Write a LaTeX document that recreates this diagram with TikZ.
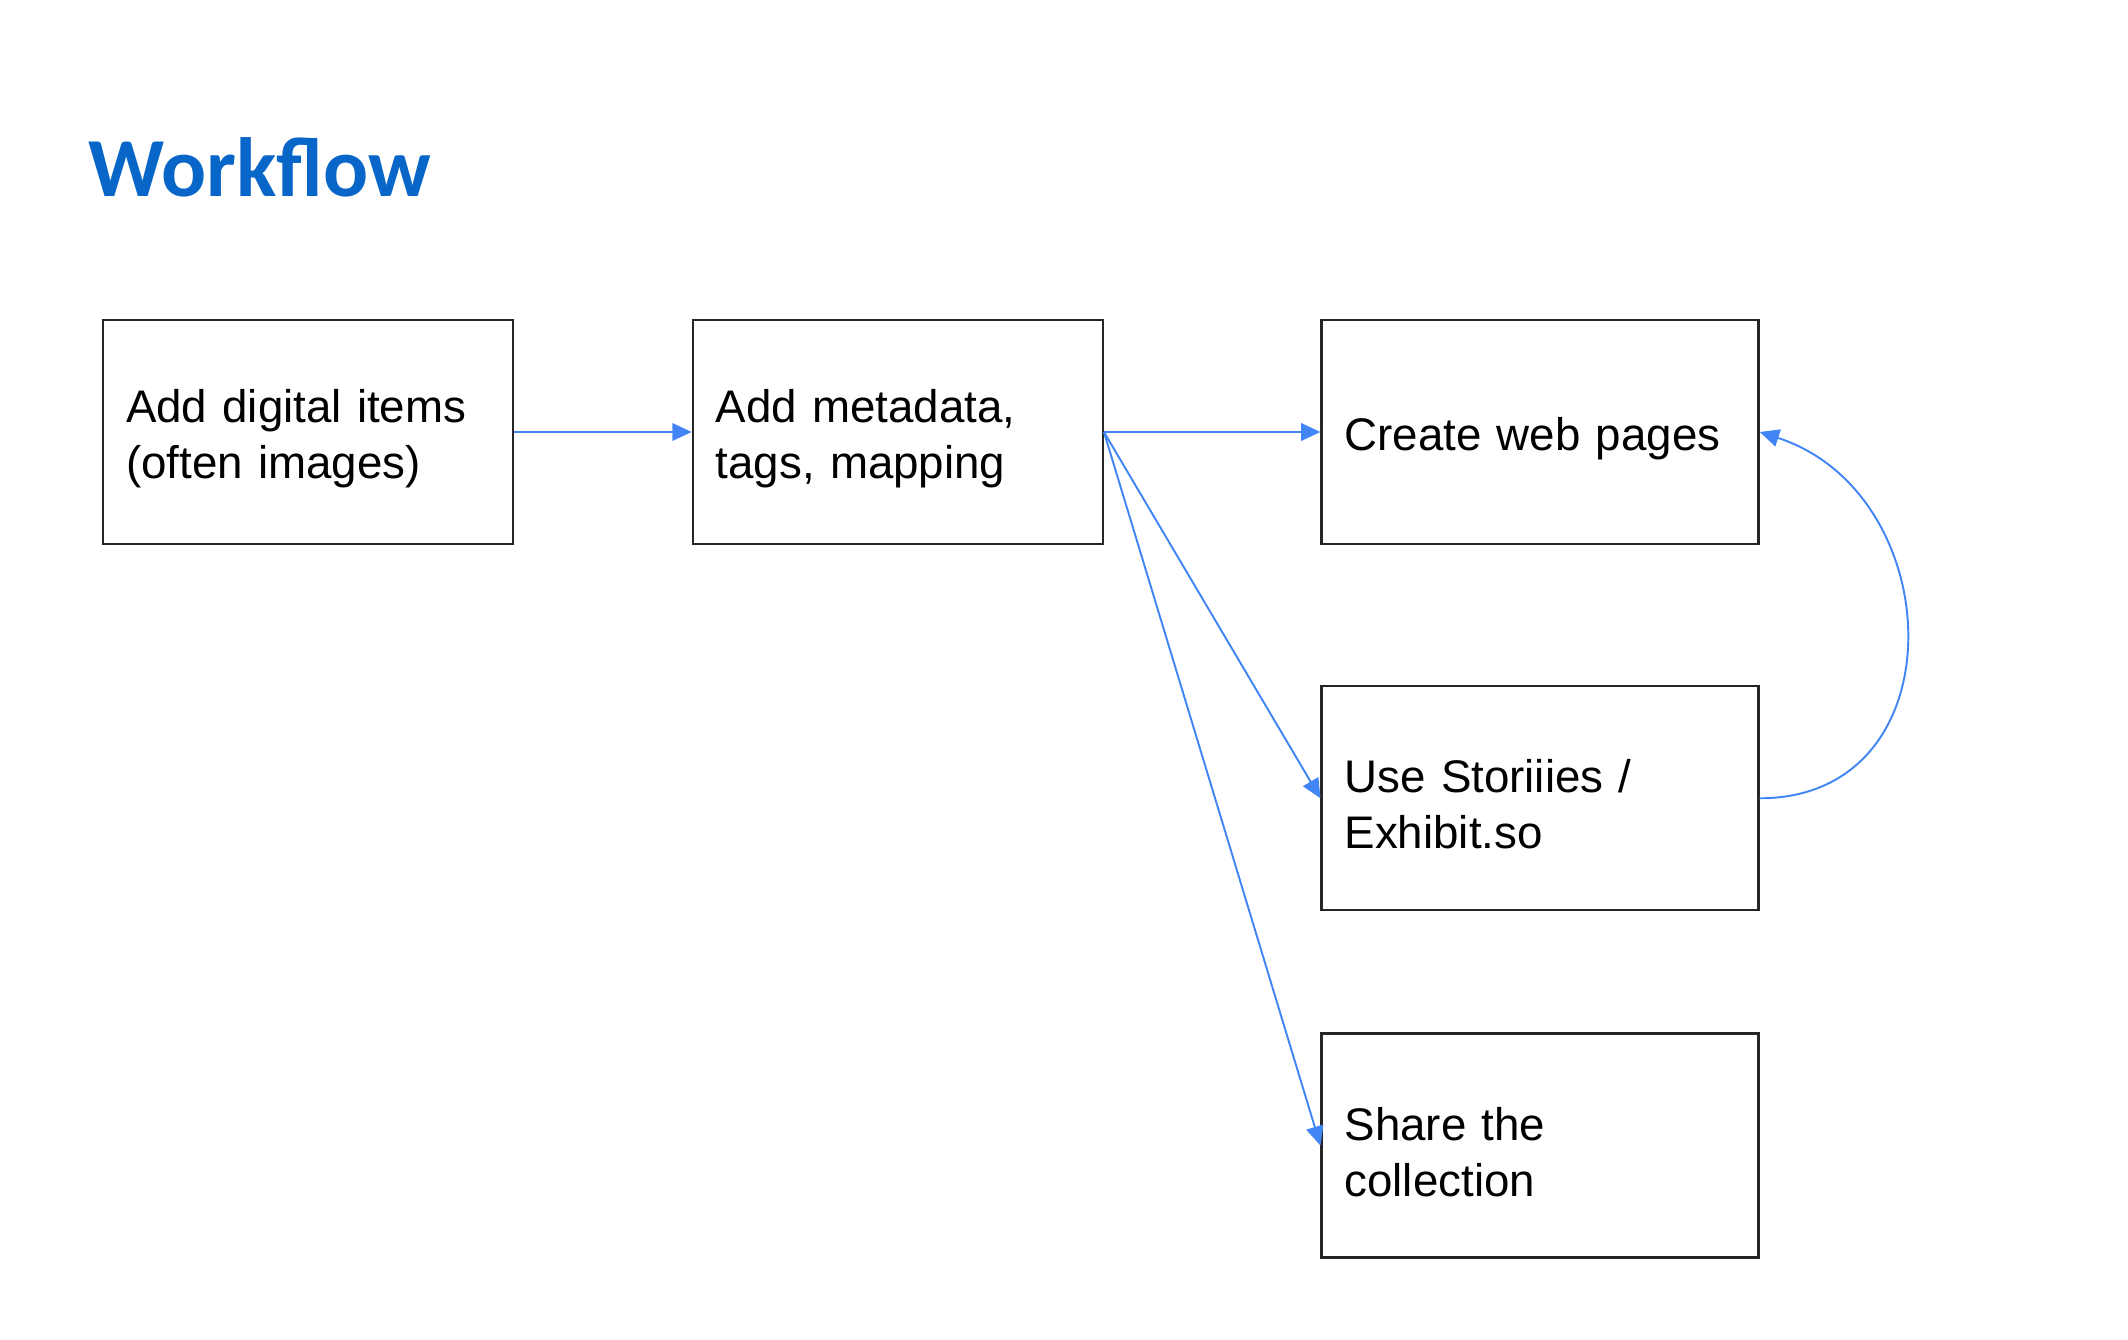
\documentclass[tikz,border=0pt]{standalone}
\usepackage{fontspec}
\setmainfont{Liberation Sans}
\newfontfamily\titlefont{Carlito}
\usetikzlibrary{arrows.meta, positioning}
\definecolor{titleblue}{RGB}{8,102,200}
\definecolor{flowblue}{RGB}{66,133,244}

\begin{document}
\begin{tikzpicture}
	\tikzstyle{stepbox}=[
	draw=black!85,
	line width=1.3pt,
	rectangle,
	minimum height=4.48cm,
	minimum width=8.2cm,
	text width=7.28cm,
	inner xsep=0.46cm,
	align=left,
	font=\fontsize{26}{31.9}\selectfont,
	execute at begin node={\rule{0pt}{26pt}}
	]
	\tikzstyle{widebox}=[stepbox, minimum width=8.74cm, text width=7.82cm]
	\tikzstyle{flow}=[draw=flowblue, line width=1.1pt, -{Triangle[length=11pt,width=10pt]}]
	\useasboundingbox (0,0) rectangle (42.56,-26.8);
	\node[anchor=base west, inner sep=0, text=titleblue, font=\titlefont\bfseries\fontsize{47.8}{56}\selectfont] (title) at (1.76,-3.94) {Workflow};
	\node[stepbox] (items) at (6.16,-8.64) {Add digital items\\(often images)};
	\node[stepbox, right=3.55cm of items] (meta) {Add metadata,\\tags, mapping};
	\node[widebox, right=4.33cm of meta] (pages) {Create web pages};
	\node[widebox, below=2.8cm of pages] (stories) {Use Storiiies /\\Exhibit.so};
	\node[widebox, below=2.42cm of stories] (share) {Share the\\collection};
	\draw[flow] (items) -- (meta);
	\draw[flow] (meta.east) -- (pages);
	\draw[flow] (meta.east) -- (stories.west);
	\draw[flow] (meta.east) -- (share.west);
	\draw[flow] (stories.east) to[out=0, in=-18, looseness=1.4] (pages.east);
	%\node[draw=red, fit=(pages) (share)] {};
\end{tikzpicture}
\end{document}
